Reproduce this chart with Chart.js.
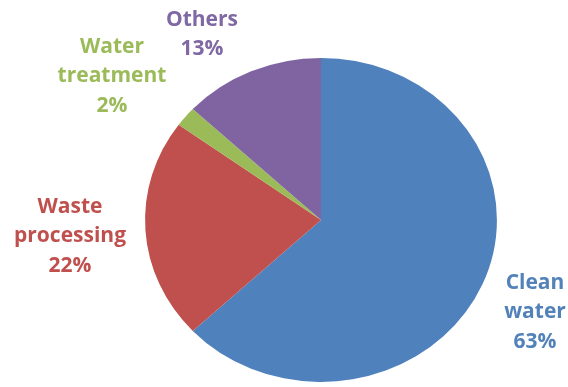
<!DOCTYPE html>
<html>
<head>
<meta charset="utf-8">
<script src="https://cdn.jsdelivr.net/npm/chart.js@4/dist/chart.umd.min.js"></script>
<style>
  html, body { margin: 0; padding: 0; background: #ffffff; }
  #wrap { width: 568px; height: 387px; position: relative; }
</style>
</head>
<body>
<div id="wrap"><canvas id="chart"></canvas></div>
<script>
// Share of spending by sector
const categories = ['Clean water', 'Waste processing', 'Water treatment', 'Others'];
const shares = [63, 22, 2, 13];
// Label text split onto lines
const labelLines = [['Clean', 'water'], ['Waste', 'processing'], ['Water', 'treatment'], ['Others']];

const sliceColors = ['#4f81bd', '#c0504d', '#9bbb59', '#8064a2'];
const textColors = ['#5282b9', '#c0504d', '#9bbb59', '#7f68a3'];
// Label block centres (x, y of first line), in pixels
const labelAnchors = [[535, 283], [70, 207], [112, 47], [202, 20]];
const lineGap = 29.5;
const stretchX = 1.086;

// Widen the pie horizontally around its centre
const stretchPlugin = {
  id: 'stretch',
  beforeDatasetsDraw(chart) {
    const a = chart.chartArea;
    const cx = (a.left + a.right) / 2;
    const ctx = chart.ctx;
    ctx.save();
    ctx.translate(cx, 0);
    ctx.scale(stretchX, 1);
    ctx.translate(-cx, 0);
  },
  afterDatasetsDraw(chart) {
    chart.ctx.restore();
  }
};

// Category name and percentage beside each slice
const outsideLabels = {
  id: 'outsideLabels',
  afterDraw(chart) {
    const ctx = chart.ctx;
    const total = shares.reduce((s, v) => s + v, 0);
    ctx.save();
    ctx.font = 'bold 21px "Open Sans", sans-serif';
    ctx.textAlign = 'center';
    ctx.textBaseline = 'middle';
    shares.forEach((v, i) => {
      const lines = labelLines[i].concat([Math.round(v / total * 100) + '%']);
      const [x, y] = labelAnchors[i];
      ctx.fillStyle = textColors[i];
      lines.forEach((t, k) => ctx.fillText(t, x, y + k * lineGap));
    });
    ctx.restore();
  }
};

new Chart(document.getElementById('chart'), {
  type: 'pie',
  data: {
    labels: categories,
    datasets: [{
      data: shares,
      backgroundColor: sliceColors,
      borderWidth: 0
    }]
  },
  options: {
    responsive: true,
    maintainAspectRatio: false,
    animation: false,
    layout: { padding: { left: 159, right: 85, top: 58, bottom: 5 } },
    plugins: {
      legend: { display: false },
      tooltip: { enabled: false }
    }
  },
  plugins: [stretchPlugin, outsideLabels]
});
</script>
</body>
</html>
